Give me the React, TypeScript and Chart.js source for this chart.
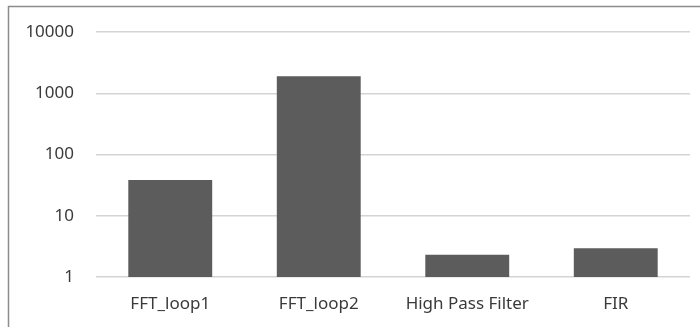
import React, { useEffect, useRef } from "react";
import { Chart, registerables } from "chart.js";

Chart.register(...registerables);

const categories = ["FFT_loop1", "FFT_loop2", "High Pass Filter", "FIR"];
const values = [38.5, 1900, 2.3, 2.95];
const yTicks = [1, 10, 100, 1000, 10000];

const framePlugin = {
  id: "frame",
  beforeDraw(chart: any) {
    const ctx = chart.ctx;
    ctx.save();
    ctx.fillStyle = "#ffffff";
    ctx.fillRect(0, 0, chart.width, chart.height);
    ctx.strokeStyle = "#8c8c8c";
    ctx.lineWidth = 1.5;
    ctx.beginPath();
    ctx.moveTo(8.5, chart.height);
    ctx.lineTo(8.5, 6.5);
    ctx.lineTo(chart.width, 6.5);
    ctx.stroke();
    ctx.restore();
  },
};

export default function App() {
  const ref = useRef<HTMLCanvasElement>(null);
  useEffect(() => {
    if (!ref.current) return;
    const chart = new Chart(ref.current, {
      type: "bar",
      data: {
        labels: categories,
        datasets: [
          {
            data: values,
            backgroundColor: "#5c5c5c",
            borderWidth: 0,
            barPercentage: 0.565,
            categoryPercentage: 1,
          },
        ],
      },
      options: {
        responsive: false,
        animation: false,
        layout: { padding: { left: 0, right: 10, top: 29, bottom: 0 } },
        plugins: { legend: { display: false }, tooltip: { enabled: false } },
        scales: {
          x: {
            grid: { display: false, drawTicks: false },
            border: { display: false },
            ticks: {
              color: "#3a3a3a",
              padding: 17,
              font: { family: "'Noto Sans', sans-serif", size: 17 },
              maxRotation: 0,
            },
            afterFit(scale: any) {
              scale.height = 50;
            },
          },
          y: {
            type: "logarithmic",
            min: 1,
            max: 10000,
            grid: { color: "#d4d4d4", lineWidth: 1.5, drawTicks: false },
            border: { display: false },
            ticks: {
              color: "#3a3a3a",
              padding: 22,
              font: { family: "'Noto Sans', sans-serif", size: 17 },
              callback: (v: any) => String(v),
            },
            afterBuildTicks(scale: any) {
              scale.ticks = yTicks.map((v) => ({ value: v }));
            },
            afterFit(scale: any) {
              scale.width = 96;
            },
          },
        },
      },
      plugins: [framePlugin],
    });
    return () => chart.destroy();
  }, []);
  return (
    <div style={{ position: "fixed", left: 0, top: 0, width: 700, height: 327 }}>
      <canvas ref={ref} width={700} height={327} style={{ display: "block" }} />
    </div>
  );
}
